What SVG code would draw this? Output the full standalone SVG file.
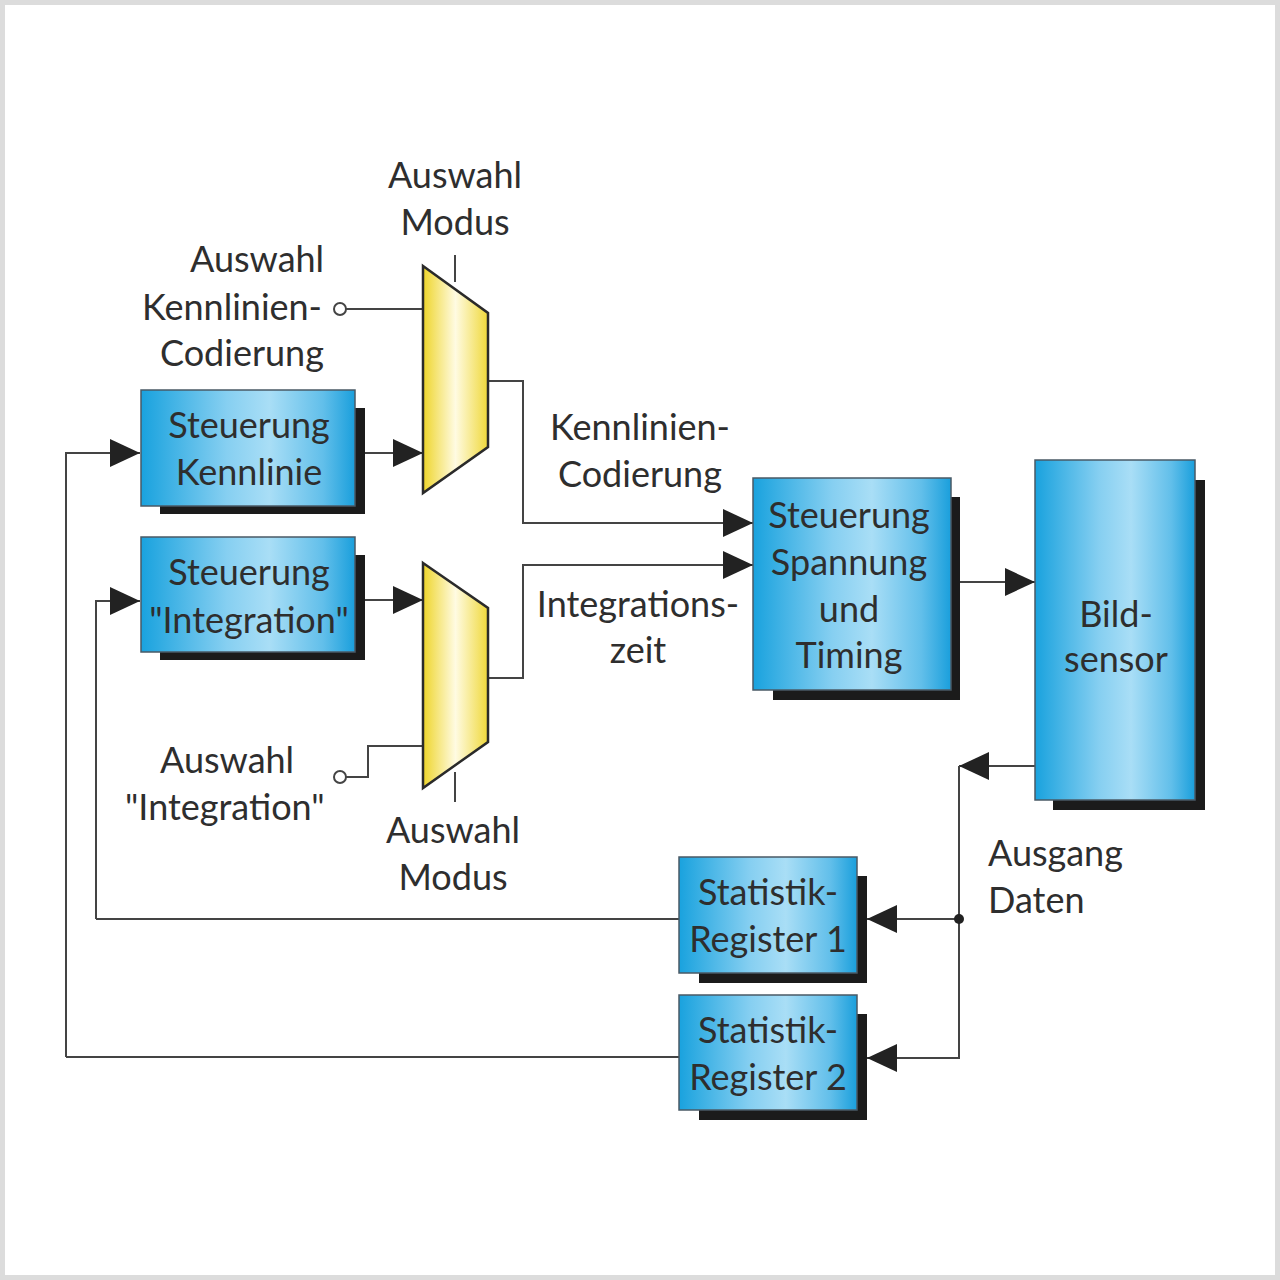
<svg xmlns="http://www.w3.org/2000/svg" width="1280" height="1280" viewBox="0 0 1280 1280">
<defs>
<linearGradient id="blue" x1="0" y1="0" x2="1" y2="0">
<stop offset="0" stop-color="#19a2de"/>
<stop offset="0.4" stop-color="#86cff1"/>
<stop offset="0.6" stop-color="#a9def6"/>
<stop offset="0.85" stop-color="#62bfea"/>
<stop offset="1" stop-color="#1a9fdc"/>
</linearGradient>
<linearGradient id="yellow" x1="0" y1="0" x2="1" y2="0">
<stop offset="0" stop-color="#eed52a"/>
<stop offset="0.5" stop-color="#fffbe2"/>
<stop offset="1" stop-color="#efd83a"/>
</linearGradient>
<marker id="arr" markerUnits="userSpaceOnUse" markerWidth="32" markerHeight="30" refX="30" refY="14" orient="auto">
<path d="M0,0 L30,14 L0,28 z" fill="#222"/>
</marker>
<style>
.box{fill:url(#blue);stroke:#4a5a66;stroke-width:1.5}
.sh{fill:#1b1b1b}
.mux{fill:url(#yellow);stroke:#2a2a2a;stroke-width:2.5}
.ln{fill:none;stroke:#444;stroke-width:2}
.t{font-family:Lato,"Open Sans",sans-serif;font-size:36px;fill:#2e2e2e}
.c{text-anchor:middle}
</style>
</defs>
<rect x="0" y="0" width="1280" height="1280" fill="#ffffff"/>
<rect x="2.5" y="2.5" width="1275" height="1275" fill="none" stroke="#dcdcdc" stroke-width="5"/>

<g id="connectors">
<path class="ln" d="M66,1057 L66,453 L140,453" marker-end="url(#arr)"/>
<path class="ln" d="M96,919 L96,601 L140,601" marker-end="url(#arr)"/>
<path class="ln" d="M365,453 L423,453" marker-end="url(#arr)"/>
<path class="ln" d="M365,600 L423,600" marker-end="url(#arr)"/>
<path class="ln" d="M345,309 L423,309"/>
<circle cx="340" cy="309" r="6" fill="#fff" stroke="#444" stroke-width="2"/>
<path class="ln" d="M346,777 L368,777 L368,746 L423,746"/>
<circle cx="340" cy="777" r="6" fill="#fff" stroke="#444" stroke-width="2"/>
<path class="ln" d="M455,255 L455,282"/>
<path class="ln" d="M455,772 L455,802"/>
<path class="ln" d="M488,381 L523,381 L523,523 L753,523" marker-end="url(#arr)"/>
<path class="ln" d="M488,678 L523,678 L523,565 L753,565" marker-end="url(#arr)"/>
<path class="ln" d="M960,582 L1035,582" marker-end="url(#arr)"/>
<path class="ln" d="M1035,766 L959,766" marker-end="url(#arr)"/>
<path class="ln" d="M959,766 L959,1058 L867,1058" marker-end="url(#arr)"/>
<path class="ln" d="M959,919 L867,919" marker-end="url(#arr)"/>
<circle cx="959" cy="919" r="5" fill="#222"/>
<path class="ln" d="M96,919 L679,919"/>
<path class="ln" d="M66,1057 L679,1057"/>
</g>

<g id="mux1">
<path class="mux" d="M423,266 L488,313 L488,447 L423,493 Z"/>
</g>
<g id="mux2">
<path class="mux" d="M423,563 L488,608 L488,742 L423,788 Z"/>
</g>

<g id="steuerung-kennlinie">
<rect class="sh" x="160" y="408" width="205" height="106"/>
<rect class="box" x="141" y="390" width="214" height="116"/>
<text class="t c" x="249" y="438">Steuerung</text>
<text class="t c" x="249" y="485">Kennlinie</text>
</g>
<g id="steuerung-integration">
<rect class="sh" x="160" y="555" width="205" height="105"/>
<rect class="box" x="141" y="537" width="214" height="115"/>
<text class="t c" x="249" y="585">Steuerung</text>
<text class="t c" x="249" y="633">"Integration"</text>
</g>
<g id="steuerung-spannung">
<rect class="sh" x="773" y="497" width="187" height="203"/>
<rect class="box" x="753" y="478" width="198" height="212"/>
<text class="t c" x="849" y="528">Steuerung</text>
<text class="t c" x="849" y="575">Spannung</text>
<text class="t c" x="849" y="622">und</text>
<text class="t c" x="849" y="668">Timing</text>
</g>
<g id="bildsensor">
<rect class="sh" x="1053" y="480" width="152" height="330"/>
<rect class="box" x="1035" y="460" width="160" height="340"/>
<text class="t c" x="1116" y="627">Bild-</text>
<text class="t c" x="1116" y="672">sensor</text>
</g>
<g id="statistik-register-1">
<rect class="sh" x="699" y="876" width="168" height="107"/>
<rect class="box" x="679" y="857" width="178" height="116"/>
<text class="t c" x="768" y="905">Statistik-</text>
<text class="t c" x="768" y="952">Register 1</text>
</g>
<g id="statistik-register-2">
<rect class="sh" x="699" y="1014" width="168" height="106"/>
<rect class="box" x="679" y="995" width="178" height="115"/>
<text class="t c" x="768" y="1043">Statistik-</text>
<text class="t c" x="768" y="1090">Register 2</text>
</g>

<g id="labels">
<text class="t c" x="455" y="188">Auswahl</text>
<text class="t c" x="455" y="235">Modus</text>
<text class="t" x="190" y="272">Auswahl</text>
<text class="t" x="142" y="320">Kennlinien-</text>
<text class="t" x="160" y="366">Codierung</text>
<text class="t" x="550" y="440">Kennlinien-</text>
<text class="t" x="558" y="487">Codierung</text>
<text class="t c" x="638" y="617">Integrations-</text>
<text class="t c" x="638" y="663">zeit</text>
<text class="t" x="160" y="773">Auswahl</text>
<text class="t" x="125" y="820">"Integration"</text>
<text class="t c" x="453" y="843">Auswahl</text>
<text class="t c" x="453" y="890">Modus</text>
<text class="t" x="988" y="866">Ausgang</text>
<text class="t" x="988" y="913">Daten</text>
</g>
</svg>
